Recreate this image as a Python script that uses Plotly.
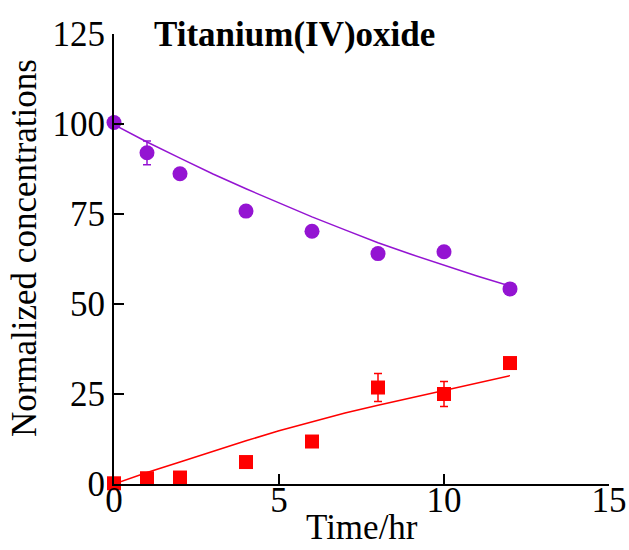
import plotly.graph_objects as go

# Data
time_pts = [0, 1, 2, 4, 6, 8, 10, 12]
titania = [100.4, 92.0, 86.2, 75.8, 70.2, 64.0, 64.5, 54.2]
titania_err = [0, 3.3, 0, 0, 0, 0, 0, 0]
product = [0.2, 1.6, 1.8, 6.1, 11.8, 26.8, 25.0, 33.6]
product_err = [0, 0, 0, 0, 0.8, 3.9, 3.5, 0]

fit_t = [0, 1, 2, 3, 4, 5, 6, 7, 8, 9, 10, 11, 12]
titania_fit = [99.8, 95.0, 90.5, 86.1, 82.0, 78.0, 74.2, 70.6, 67.0, 63.8, 60.7, 57.8, 55.0]
product_fit = [0.0, 3.2, 6.1, 9.1, 12.0, 14.8, 17.3, 19.7, 21.9, 23.9, 25.9, 28.0, 30.1]

purple = "#9414d2"
red = "#ff0000"
FONT = "Liberation Serif"
FS = 35

fig = go.Figure()
fig.add_trace(go.Scatter(x=fit_t, y=titania_fit, mode="lines",
                         line=dict(color=purple, width=1.5), cliponaxis=False, showlegend=False))
fig.add_trace(go.Scatter(x=fit_t, y=product_fit, mode="lines",
                         line=dict(color=red, width=1.5), cliponaxis=False, showlegend=False))
fig.add_trace(go.Scatter(x=time_pts, y=titania, mode="markers",
                         marker=dict(color=purple, size=15, symbol="circle"),
                         error_y=dict(type="data", array=titania_err, visible=True,
                                      color=purple, thickness=1.5, width=4),
                         cliponaxis=False, showlegend=False))
fig.add_trace(go.Scatter(x=time_pts, y=product, mode="markers",
                         marker=dict(color=red, size=14, symbol="square"),
                         error_y=dict(type="data", array=product_err, visible=True,
                                      color=red, thickness=1.5, width=4),
                         cliponaxis=False, showlegend=False))

fig.update_layout(
    width=629, height=550,
    margin=dict(l=114, r=20, t=34, b=66),
    paper_bgcolor="white", plot_bgcolor="white",
    font=dict(family=FONT, size=FS, color="black"),
    xaxis=dict(range=[0, 15], tickvals=[0, 5, 10, 15], ticks="inside", ticklen=10,
               tickwidth=1.5, tickcolor="black", showline=True, linecolor="black",
               linewidth=2, showgrid=False, zeroline=False, ticklabelstandoff=-16,
               automargin=False),
    yaxis=dict(range=[0, 125], tickvals=[0, 25, 50, 75, 100, 125], ticks="inside",
               ticklen=10, tickwidth=1.5, tickcolor="black", showline=True,
               linecolor="black", linewidth=2, showgrid=False, zeroline=False,
               automargin=False),
    annotations=[
        dict(text="<b>Titanium(IV)oxide</b>", x=0.077, y=1.0, xref="paper",
             yref="paper", xanchor="left", yanchor="middle", showarrow=False,
             font=dict(family=FONT, size=FS, color="black")),
        dict(text="Time/hr", x=0.5, y=-0.097, xref="paper", yref="paper",
             xanchor="center", yanchor="middle", showarrow=False,
             font=dict(family=FONT, size=FS, color="black")),
        dict(text="Normalized concentrations", x=-0.182, y=0.524, xref="paper",
             yref="paper", xanchor="center", yanchor="middle", showarrow=False,
             textangle=-90, font=dict(family=FONT, size=FS, color="black")),
    ],
)

fig.write_html("out.html")
